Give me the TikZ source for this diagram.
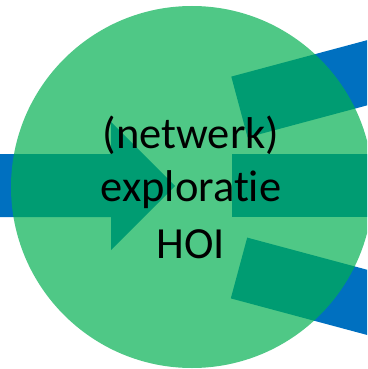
\documentclass[tikz,border=0pt]{standalone}
\usepackage{fontspec}
\setmainfont{Carlito}[Ligatures={NoCommon}]
\definecolor{arrowblue}{RGB}{0,112,192}
\definecolor{circgreen}{RGB}{0,176,80}
\tikzset{
  flow/.style={fill=arrowblue, draw=none},
  hub/.style={fill=circgreen, fill opacity=0.69, draw=none},
  label/.style={anchor=base, inner sep=0pt, font=\fontsize{44.5}{54}\selectfont, text=black}
}
\begin{document}
\begin{tikzpicture}[x=1pt,y=-1pt]
\useasboundingbox (0,0) rectangle (367,369);
\clip (0,0) rectangle (367,369);
% incoming arrow
\fill[flow] (-20,154) -- (111,154) -- (111,122) -- (175,186) -- (111,250) -- (111,217) -- (-20,217) -- cycle;
% outgoing shafts
\fill[flow] (232,154) rectangle (420,217);
\fill[flow] (231.3,76.6) -- (424.5,24.8) -- (440.8,85.6) -- (247.6,137.4) -- cycle;
\fill[flow] (247.2,237.6) -- (440.4,289.4) -- (424,350.2) -- (230.8,298.4) -- cycle;
% hub circle
\fill[hub] (192,187) circle[radius=181];
% text
\node[label] (t1) at (191,148) {(netwerk)};
\node[label] (t2) at (191,201) {exploratie};
\node[label] (t3) at (191,258) {HOI};
\end{tikzpicture}
\end{document}
